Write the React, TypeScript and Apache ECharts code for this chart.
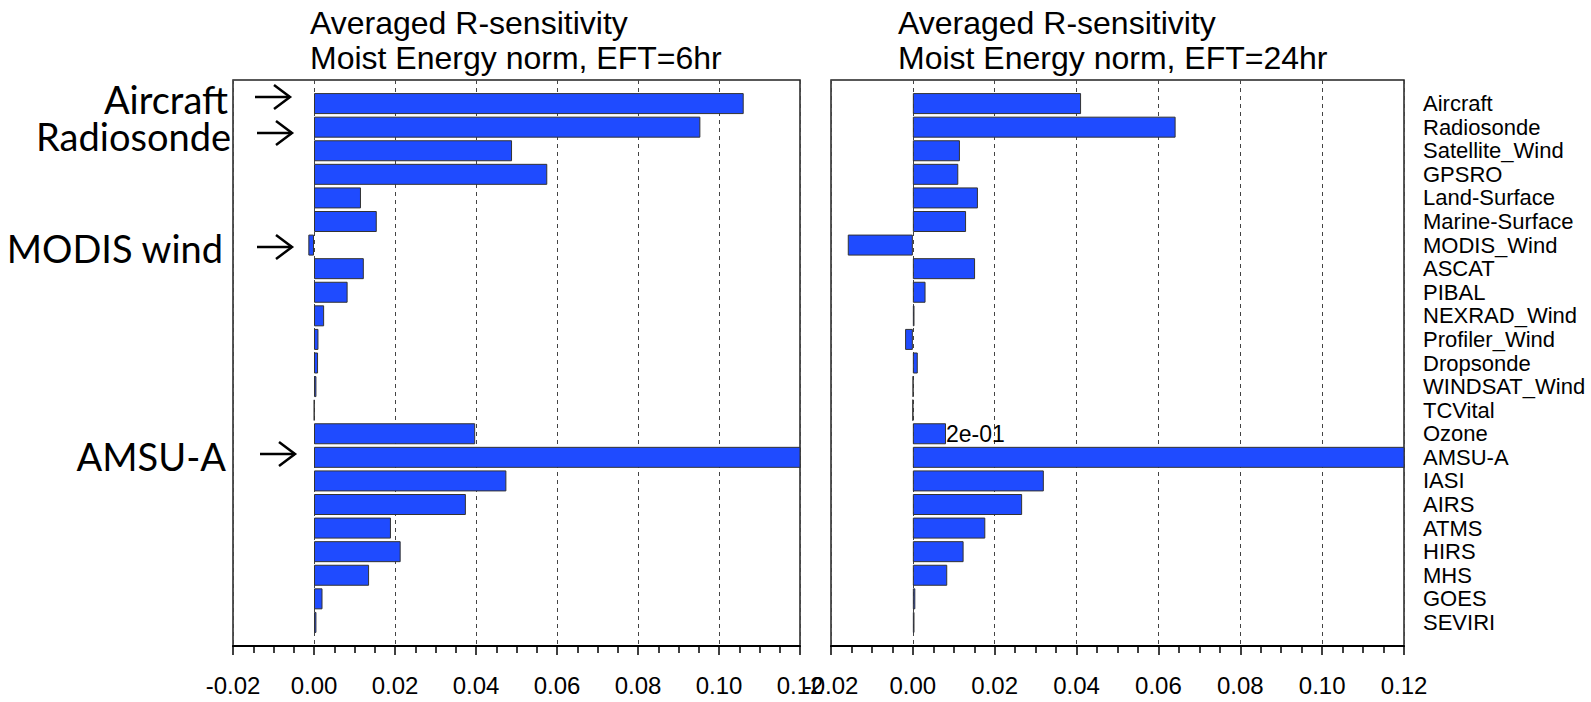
import React, { useEffect, useRef } from "react";
import * as echarts from "echarts";

const categories = [
  "Aircraft", "Radiosonde", "Satellite_Wind", "GPSRO", "Land-Surface", "Marine-Surface",
  "MODIS_Wind", "ASCAT", "PIBAL", "NEXRAD_Wind", "Profiler_Wind", "Dropsonde",
  "WINDSAT_Wind", "TCVital", "Ozone", "AMSU-A", "IASI", "AIRS", "ATMS", "HIRS",
  "MHS", "GOES", "SEVIRI",
];

const eft6 = [
  0.1061, 0.0954, 0.0489, 0.0576, 0.0116, 0.0155, -0.0014, 0.0123, 0.0083, 0.0025,
  0.0011, 0.001, 0.0006, 0.0001, 0.0398, 0.2, 0.0475, 0.0375, 0.019, 0.0214, 0.0136,
  0.0021, 0.0006,
];

const eft24 = [
  0.0411, 0.0642, 0.0115, 0.0111, 0.0159, 0.013, -0.0159, 0.0152, 0.0031, 0.0004,
  -0.0019, 0.0012, 0.0001, 0, 0.0081, 0.2, 0.032, 0.0267, 0.0177, 0.0124, 0.0084,
  0.0006, 0.0004,
];

const titles = [
  "Averaged R-sensitivity\nMoist Energy norm, EFT=6hr",
  "Averaged R-sensitivity\nMoist Energy norm, EFT=24hr",
];

const annotations = ["Aircraft", "Radiosonde", "MODIS wind", "AMSU-A"];

const X_MIN = -0.02;
const X_MAX = 0.12;
const X_STEP = 0.02;

function fmtExp(v: number): string {
  const [m, e] = v.toExponential(0).split("e");
  const n = parseInt(e, 10);
  return m + "e" + (n < 0 ? "-" : "+") + String(Math.abs(n)).padStart(2, "0");
}

const FONT = "Liberation Sans";

export default function App() {
  const ref = useRef<HTMLDivElement>(null);

  useEffect(() => {
    if (!ref.current) return;
    const chart = echarts.init(ref.current, undefined, { renderer: "svg" });

    const yData = ["", ...categories, ""];
    const amsuIdx = categories.indexOf("AMSU-A");
    const ozoneIdx = categories.indexOf("Ozone");

    const grids = [
      { left: 233, top: 80, width: 567, height: 566 },
      { left: 831, top: 80, width: 573, height: 566 },
    ];

    const xAxis = grids.map((_, i) => ({
      gridIndex: i,
      type: "value",
      min: X_MIN,
      max: X_MAX,
      interval: X_STEP,
      axisLine: { show: true, onZero: false, lineStyle: { color: "#000", width: 2 } },
      axisTick: { show: true, length: 9, lineStyle: { color: "#000", width: 1.5 } },
      minorTick: { show: true, splitNumber: 4, length: 7, lineStyle: { color: "#000", width: 1.5 } },
      axisLabel: {
        margin: 27,
        fontSize: 24,
        fontFamily: FONT,
        color: "#000",
        showMinLabel: true,
        showMaxLabel: true,
        formatter: (v: number) => v.toFixed(2),
      },
      splitLine: { show: true, lineStyle: { type: [4, 4], color: "#444", width: 1 } },
    }));

    const yAxis = grids.map((_, i) => ({
      gridIndex: i,
      type: "category",
      data: yData,
      inverse: true,
      boundaryGap: false,
      position: i === 1 ? "right" : "left",
      axisLine: { show: false },
      axisTick: { show: false },
      splitLine: { show: false },
      axisLabel: {
        show: i === 1,
        interval: 0,
        margin: 19,
        fontSize: 22,
        fontFamily: FONT,
        color: "#000",
        align: "left",
      },
    }));

    const mkData = (vals: number[], withLabel: boolean) => {
      const arr: any[] = [null];
      vals.forEach((v, k) => {
        if (withLabel && k === ozoneIdx) {
          arr.push({
            value: v,
            label: {
              show: true,
              position: "right",
              distance: 0,
              formatter: fmtExp(vals[amsuIdx]),
              fontSize: 23,
              fontFamily: FONT,
              color: "#000",
            },
          });
        } else {
          arr.push(v);
        }
      });
      arr.push(null);
      return arr;
    };

    const barStyle = { color: "#1f4bff", borderColor: "#333", borderWidth: 1 };

    const series = [
      {
        type: "bar",
        xAxisIndex: 0,
        yAxisIndex: 0,
        data: mkData(eft6, false),
        barWidth: 21,
        clip: true,
        itemStyle: barStyle,
      },
      {
        type: "bar",
        xAxisIndex: 1,
        yAxisIndex: 1,
        data: mkData(eft24, true),
        barWidth: 21,
        clip: true,
        itemStyle: barStyle,
      },
    ];

    const annPos = [
      { right: 228, y: 99, ax: 290, ay: 97 },
      { right: 231, y: 136, ax: 292, ay: 133 },
      { right: 223, y: 248, ax: 292, ay: 247 },
      { right: 226, y: 456, ax: 295, ay: 454 },
    ];

    const graphic: any[] = [];
    annotations.forEach((t, k) => {
      const p = annPos[k];
      graphic.push({
        type: "text",
        x: p.right,
        y: p.y,
        style: {
          text: t,
          fontFamily: "Lato",
          fontSize: 38,
          lineHeight: 30,
          fill: "#000",
          align: "right",
          verticalAlign: "middle",
        },
      });
      graphic.push({
        type: "polyline",
        shape: { points: [[p.ax - 35, p.ay], [p.ax, p.ay]] },
        style: { stroke: "#000", lineWidth: 2.5, fill: null },
      });
      graphic.push({
        type: "polyline",
        shape: { points: [[p.ax - 16, p.ay - 12], [p.ax, p.ay], [p.ax - 16, p.ay + 12]] },
        style: { stroke: "#000", lineWidth: 2.5, fill: null },
      });
    });

    chart.setOption({
      animation: false,
      backgroundColor: "#fff",
      title: [
        { text: titles[0], left: 310, top: 5 },
        { text: titles[1], left: 898, top: 5 },
      ].map((t) => ({
        ...t,
        padding: 0,
        textStyle: {
          fontFamily: FONT,
          fontSize: 32,
          lineHeight: 35,
          fontWeight: "normal",
          color: "#000",
        },
      })),
      grid: grids.map((g) => ({ ...g, show: true, borderColor: "#222", borderWidth: 1.5 })),
      xAxis,
      yAxis,
      series,
      graphic,
    });

    return () => chart.dispose();
  }, []);

  return (
    <div
      ref={ref}
      style={{ position: "fixed", left: 0, top: 0, width: 1591, height: 702, background: "#fff" }}
    />
  );
}
